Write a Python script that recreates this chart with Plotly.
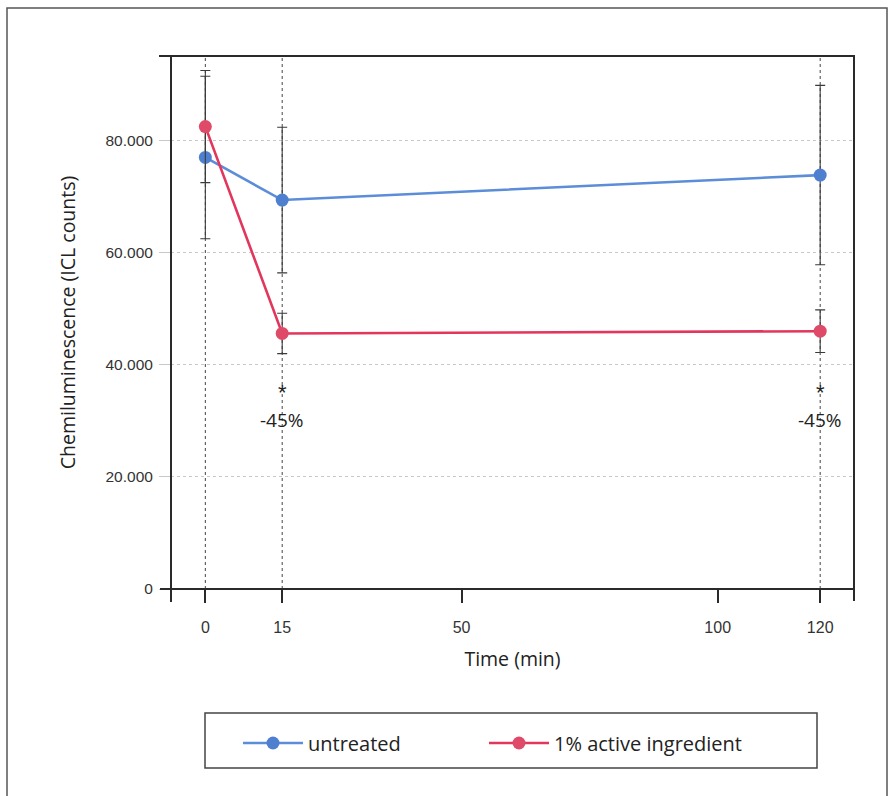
import plotly.graph_objects as go

# ---- data ----
times = [0, 15, 120]
untreated = [77000, 69400, 73850]
untreated_err = [14500, 13000, 16000]
treated = [82500, 45600, 46000]
treated_err = [10000, 3600, 3800]
reduction_labels = ["", "-45%", "-45%"]
x_tickvals = [0, 15, 50, 100, 120]
y_tickvals = [0, 20000, 40000, 60000, 80000]
y_ticktext = ["0", "20.000", "40.000", "60.000", "80.000"]

W, H = 896, 796
L, R, T, B = 171, 854, 56, 589
pw, ph = R - L, B - T


def px(xp):
    return (xp - L) / pw


def py(yp):
    return (B - yp) / ph


BLUE_LINE = "#5b8dd8"
BLUE_MK = "#4f80cf"
RED_LINE = "#e3365c"
RED_MK = "#de4a68"
ERR = "#3a3a3a"
TXT = "Open Sans"

fig = go.Figure()

fig.add_trace(go.Scatter(
    x=times, y=untreated, name="untreated", mode="lines+markers",
    line=dict(color=BLUE_LINE, width=2.6),
    marker=dict(color=BLUE_MK, size=13),
    error_y=dict(type="data", array=untreated_err, color=ERR, thickness=1.1, width=5),
    legend="legend",
))
fig.add_trace(go.Scatter(
    x=times, y=treated, name="1% active ingredient", mode="lines+markers",
    line=dict(color=RED_LINE, width=2.6),
    marker=dict(color=RED_MK, size=13),
    error_y=dict(type="data", array=treated_err, color=ERR, thickness=1.1, width=5),
    legend="legend2",
))

# dashed vertical guides at measured time points
for t in times:
    fig.add_shape(type="line", xref="x", yref="paper", x0=t, x1=t, y0=0, y1=1,
                  line=dict(color="#444", width=1, dash="3px,3px"), layer="below")

# significance annotations
for t, lab in zip(times, reduction_labels):
    if lab:
        fig.add_annotation(x=t, y=35000, xref="x", yref="y", text="*", showarrow=False,
                           font=dict(size=22, color="#222", family="Liberation Sans"))
        fig.add_annotation(x=t, y=30100, xref="x", yref="y", text=lab, showarrow=False,
                           font=dict(size=19, color="#222", family=TXT))

frame = dict(color="#2a2a2a", width=2)
# frame lines
fig.add_shape(type="line", xref="paper", yref="paper", x0=px(159), x1=px(855), y0=1, y1=1, line=frame)
fig.add_shape(type="line", xref="paper", yref="paper", x0=px(160), x1=px(855), y0=0, y1=0, line=frame)
fig.add_shape(type="line", xref="paper", yref="paper", x0=0, x1=0, y0=py(602), y1=1, line=frame)
fig.add_shape(type="line", xref="paper", yref="paper", x0=1, x1=1, y0=py(601), y1=1, line=frame)
# page border
fig.add_shape(type="rect", xref="paper", yref="paper", x0=px(7), x1=px(887), y0=py(800), y1=py(8),
              line=dict(color="#555", width=1.5))
# legend box
fig.add_shape(type="rect", xref="paper", yref="paper", x0=px(205), x1=px(817), y0=py(768), y1=py(713),
              line=dict(color="#444", width=1.5))

legend_common = dict(orientation="h", y=py(743), xanchor="left", yanchor="middle",
                     font=dict(size=20, color="#222", family=TXT),
                     bgcolor="rgba(0,0,0,0)", itemwidth=60)

fig.update_layout(
    width=W, height=H,
    margin=dict(l=L, r=W - R, t=T, b=H - B),
    paper_bgcolor="white", plot_bgcolor="white",
    font=dict(family=TXT, color="#222"),
    showlegend=True,
    legend=dict(x=px(238), **legend_common),
    legend2=dict(x=px(484), **legend_common),
    xaxis=dict(range=[-6.7, 126.6], tickvals=x_tickvals, ticks="outside", ticklen=13,
               tickwidth=2, tickcolor="#2a2a2a", showgrid=False, zeroline=False, showline=False,
               ticklabelstandoff=11,
               tickfont=dict(size=16, color="#333", family="Liberation Sans"),
               title=dict(text="Time (min)", font=dict(size=19.5, color="#222", family=TXT), standoff=17),
               automargin=False),
    yaxis=dict(range=[0, 95100], tickvals=y_tickvals, ticktext=y_ticktext, ticks="outside",
               ticklen=11, tickcolor="#c8c8c8", tickwidth=1,
               showgrid=True, gridcolor="#c8c8c8", griddash="dot", gridwidth=1,
               zeroline=False, showline=False, ticklabelstandoff=3,
               tickfont=dict(size=15.5, color="#333", family="Liberation Sans"),
               title=dict(text="Chemiluminescence (ICL counts)", font=dict(size=19.5, color="#222", family=TXT),
                          standoff=24),
               automargin=False),
)

fig.write_html("out.html")
